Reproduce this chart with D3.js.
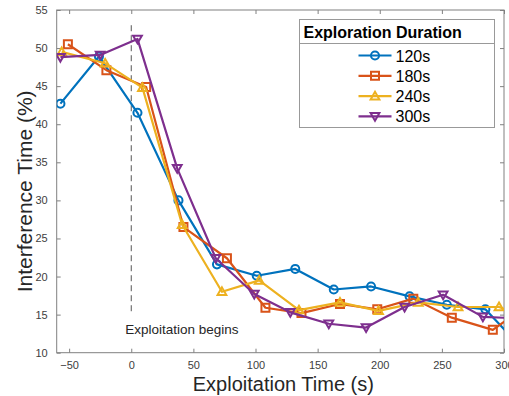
<!DOCTYPE html>
<html>
<head>
<meta charset="utf-8">
<script src="https://cdn.jsdelivr.net/npm/d3@7"></script>
<style>
  body { margin: 0; background: #fff; }
  text { font-family: "Liberation Sans", Arial, sans-serif; }
</style>
</head>
<body>
<div id="chart"></div>
<script>
// series labels and colours (MATLAB default order)
var seriesNames = ["120s", "180s", "240s", "300s"];
var seriesColors = ["#0072BD", "#D95319", "#EDB120", "#7E2F8E"];
var seriesMarkers = ["circle", "square", "triUp", "triDown"];

// x positions (s) and interference (%) per series
var x120 = [-57, -26, 5, 38, 69, 101, 132, 163, 193, 224, 254, 285, 315];
var y120 = [42.7, 48.9, 41.5, 30.0, 21.6, 20.1, 21.0, 18.3, 18.7, 17.4, 16.3, 15.7, 10.5];
var x180 = [-51, -20, 12, 42, 77, 108, 137, 168, 198, 227, 258, 291, 321];
var y180 = [50.5, 47.1, 44.9, 26.5, 22.4, 15.9, 15.2, 16.4, 15.7, 17.1, 14.6, 13.0, 16.5];
var x240 = [-56, -21, 9, 41, 73, 103, 135, 168, 199, 231, 263, 296, 328];
var y240 = [49.5, 48.0, 44.8, 26.8, 18.0, 19.5, 15.6, 16.6, 15.5, 16.6, 16.0, 16.0, 14.0];
var x300 = [-57, -25, 5, 37, 68, 99, 128, 159, 189, 220, 251, 283, 313];
var y300 = [48.8, 49.1, 51.2, 34.2, 22.4, 17.7, 15.3, 13.8, 13.3, 16.0, 17.6, 14.7, 14.5];

var xTicks = [-50, 0, 50, 100, 150, 200, 250, 300];
var yTicks = [10, 15, 20, 25, 30, 35, 40, 45, 50, 55];

var seriesX = [x120, x180, x240, x300];
var seriesY = [y120, y180, y240, y300];

var W = 509, H = 396;
var margin = {top: 10, right: 5, bottom: 43.3, left: 56.7};
var width = W - margin.left - margin.right;
var height = H - margin.top - margin.bottom;

var svg = d3.select("#chart").append("svg")
    .attr("width", W)
    .attr("height", H);

var g = svg.append("g")
    .attr("transform", "translate(" + margin.left + "," + margin.top + ")");

var x = d3.scaleLinear().domain([-60, 300]).range([0, width]);
var y = d3.scaleLinear().domain([10, 55]).range([height, 0]);

g.append("clipPath").attr("id", "clip")
  .append("rect").attr("width", width).attr("height", height);

// axes with inward ticks, mirrored on top and right
var axisColor = "#808080";
function styleAxis(sel) {
    sel.select(".domain").remove();
    sel.selectAll(".tick line").attr("stroke", axisColor);
    sel.selectAll(".tick text").attr("fill", "#404040").style("font-size", "11px");
}

g.append("g")
    .attr("transform", "translate(0," + height + ")")
    .call(d3.axisBottom(x).tickValues(xTicks).tickSize(-4).tickPadding(9).tickFormat(d3.format("d")))
    .call(styleAxis);
g.append("g")
    .call(d3.axisTop(x).tickValues(xTicks).tickSize(-4).tickFormat(""))
    .call(styleAxis);
g.append("g")
    .call(d3.axisLeft(y).tickValues(yTicks).tickSize(-4).tickPadding(9))
    .call(styleAxis);
g.append("g")
    .attr("transform", "translate(" + width + ",0)")
    .call(d3.axisRight(y).tickValues(yTicks).tickSize(-4).tickFormat(""))
    .call(styleAxis);

g.append("rect")
    .attr("width", width).attr("height", height)
    .attr("fill", "none").attr("stroke", axisColor).attr("stroke-width", 1);

// dashed marker for start of exploitation
g.append("line")
    .attr("x1", x(0)).attr("x2", x(0))
    .attr("y1", y(53)).attr("y2", y(15))
    .attr("stroke", "#555").attr("stroke-width", 1)
    .attr("stroke-dasharray", "6,4");
g.append("text")
    .attr("x", x(-4.8)).attr("y", y(12.4))
    .attr("fill", "#262626").style("font-size", "13.5px")
    .text("Exploitation begins");

var line = d3.line()
    .x(function(d) { return x(d[0]); })
    .y(function(d) { return y(d[1]); });

function markerPath(type, s) {
    if (type === "circle") return d3.symbol().type(d3.symbolCircle).size(s * s * 0.8)();
    if (type === "square") return "M" + (-s / 2) + "," + (-s / 2) + "h" + s + "v" + s + "h" + (-s) + "Z";
    var h = s * 0.55;
    if (type === "triUp") return "M0," + (-h) + "L" + h + "," + (h * 0.75) + "L" + (-h) + "," + (h * 0.75) + "Z";
    return "M0," + h + "L" + h + "," + (-h * 0.75) + "L" + (-h) + "," + (-h * 0.75) + "Z";
}

var plot = g.append("g").attr("clip-path", "url(#clip)");
seriesNames.forEach(function(name, i) {
    var pts = seriesX[i].map(function(v, j) { return [v, seriesY[i][j]]; });
    plot.append("path")
        .datum(pts)
        .attr("d", line)
        .attr("fill", "none")
        .attr("stroke", seriesColors[i])
        .attr("stroke-width", 2.2)
        .attr("stroke-linejoin", "round");
    plot.selectAll(".m" + i).data(pts).enter().append("path")
        .attr("class", "m" + i)
        .attr("transform", function(d) { return "translate(" + x(d[0]) + "," + y(d[1]) + ")"; })
        .attr("d", markerPath(seriesMarkers[i], 8))
        .attr("fill", "none")
        .attr("stroke", seriesColors[i])
        .attr("stroke-width", 2);
});

// axis labels
svg.append("text")
    .attr("x", margin.left + width / 2 + 3).attr("y", 391)
    .attr("text-anchor", "middle")
    .attr("fill", "#262626").style("font-size", "20px")
    .text("Exploitation Time (s)");
svg.append("text")
    .attr("transform", "translate(32," + (margin.top + height / 2 + 10) + ") rotate(-90)")
    .attr("text-anchor", "middle")
    .attr("fill", "#262626").style("font-size", "21px")
    .text("Interference Time (%)");

// legend
var lg = svg.append("g").attr("transform", "translate(299.5,19.5)");
lg.append("rect")
    .attr("width", 195).attr("height", 108)
    .attr("fill", "#fff").attr("stroke", "#999").attr("stroke-width", 1);
lg.append("line")
    .attr("x1", 0).attr("x2", 195).attr("y1", 24).attr("y2", 24)
    .attr("stroke", "#999");
lg.append("text")
    .attr("x", 4).attr("y", 18)
    .attr("fill", "#000").style("font-size", "16px").style("font-weight", "bold")
    .text("Exploration Duration");
seriesNames.forEach(function(name, i) {
    var row = lg.append("g").attr("transform", "translate(0," + (36 + i * 20.3) + ")");
    row.append("line")
        .attr("x1", 59).attr("x2", 92)
        .attr("stroke", seriesColors[i]).attr("stroke-width", 2.2);
    row.append("path")
        .attr("transform", "translate(75.5,0)")
        .attr("d", markerPath(seriesMarkers[i], 8))
        .attr("fill", "none").attr("stroke", seriesColors[i]).attr("stroke-width", 2);
    row.append("text")
        .attr("x", 96).attr("y", 6)
        .attr("fill", "#000").style("font-size", "16px")
        .text(name);
});
</script>
</body>
</html>
